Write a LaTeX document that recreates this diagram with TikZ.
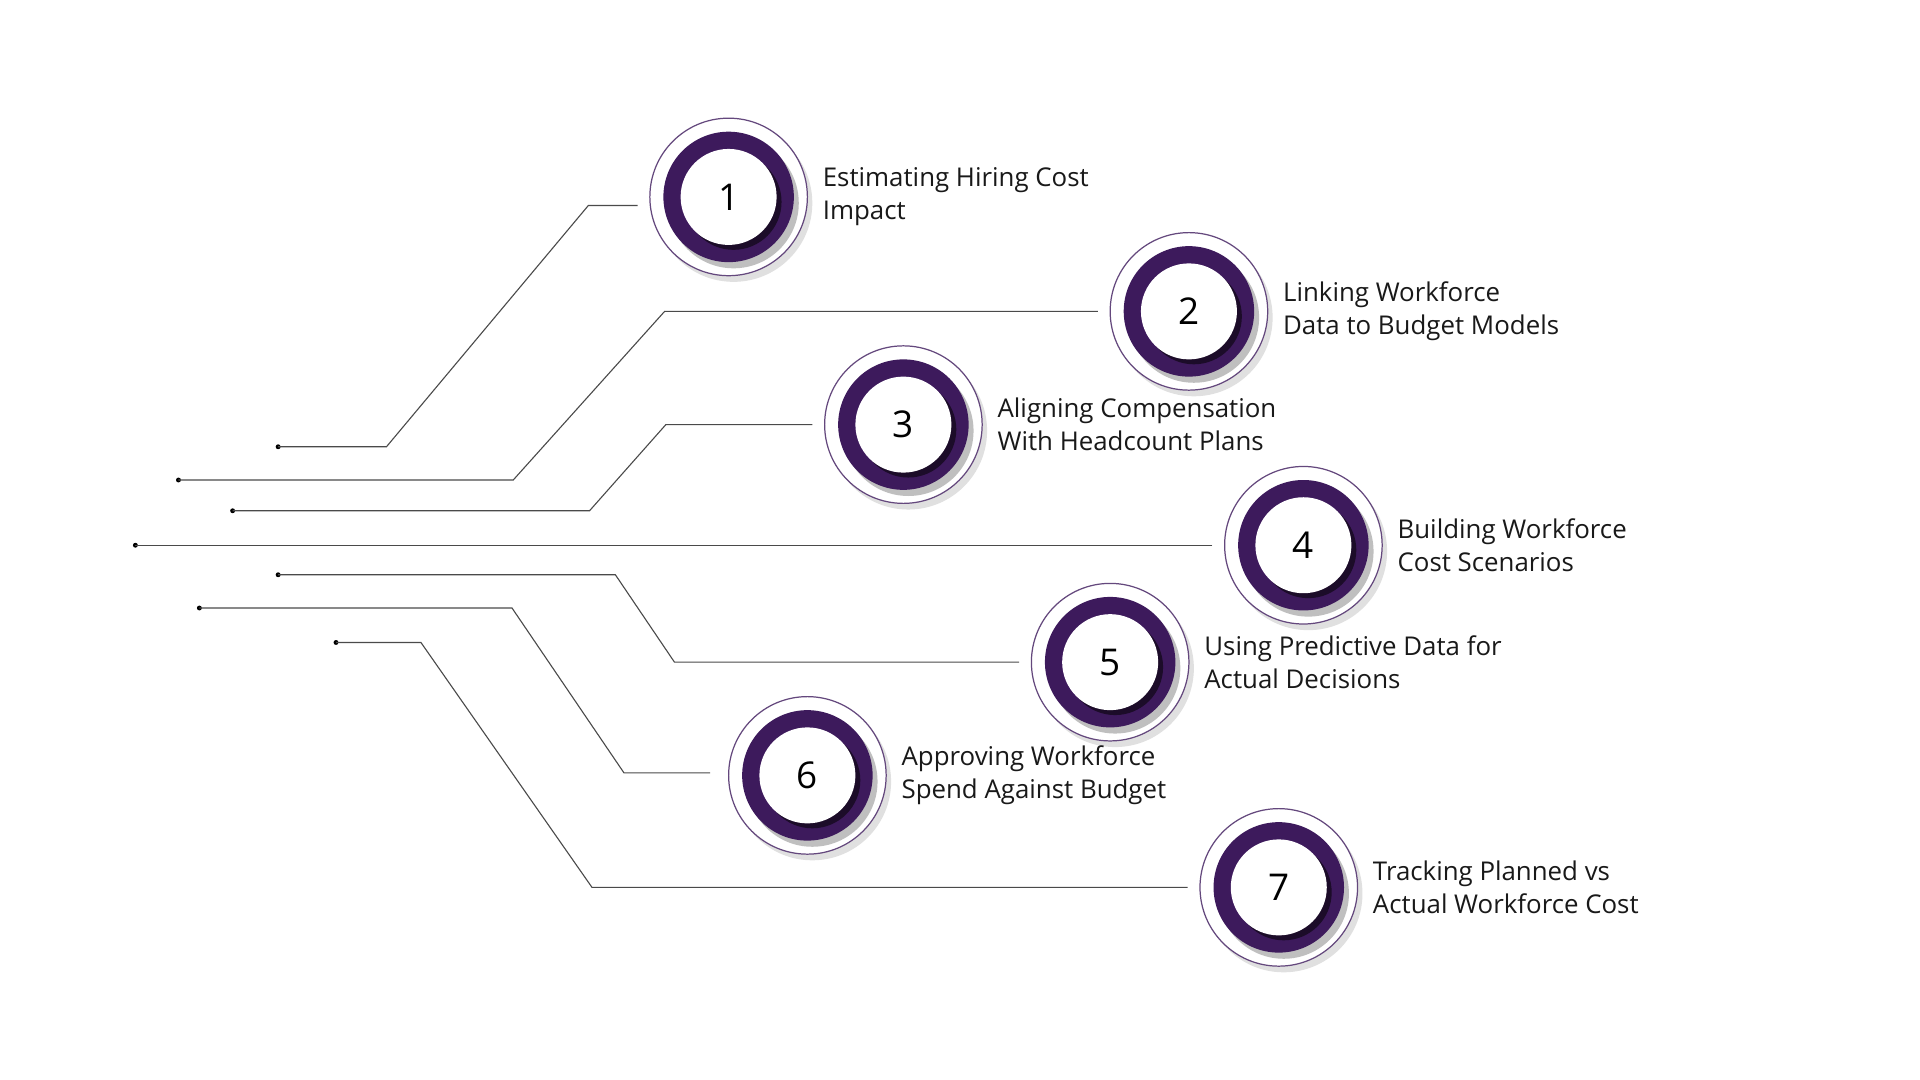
\documentclass[tikz,border=0pt]{standalone}
\usepackage{fontspec}
\setmainfont{Open Sans}
\usetikzlibrary{shadows}
\definecolor{pur}{HTML}{3D1A5C}
\definecolor{ln}{HTML}{4A4A4A}
\begin{document}
\begin{tikzpicture}[x=1pt,y=-1pt,
  wire/.style={draw=ln,line width=0.9pt},
  dotnode/.style={circle,fill=black,inner sep=0pt,minimum size=4pt},
  lbl/.style={anchor=west,align=left,font=\fontsize{21}{27}\selectfont,text=black!90}]
\useasboundingbox[fill=white] (0,0) rectangle (1560,877);
\newcommand{\stepcirc}[4]{%
  \fill[black!12] (#2+4,#3+5) circle (64);
  \fill[white] (#2,#3) circle (64);
  \draw[pur!80,line width=1pt] (#2,#3) circle (64);
  \fill[black!25] (#2+4,#3+5) circle (53);
  \fill[pur] (#2,#3) circle (53);
  \fill[black!55!pur] (#2+4,#3+4) circle (39);
  \fill[white] (#2,#3) circle (39);
  \node[font=\fontsize{30}{30}\selectfont] (n#1) at (#2,#3) {#1};
  \coordinate (c#1) at (#2-74,#3);
  \node[lbl] (t#1) at (#2+73,#3) {#4};
}
\stepcirc{1}{592}{160}{Estimating Hiring Cost\\Impact}
\stepcirc{2}{966}{253}{Linking Workforce\\Data to Budget Models}
\stepcirc{3}{734}{345}{Aligning Compensation\\With Headcount Plans}
\stepcirc{4}{1059}{443}{Building Workforce\\Cost Scenarios}
\stepcirc{5}{902}{538}{Using Predictive Data for\\Actual Decisions}
\stepcirc{6}{656}{630}{Approving Workforce\\Spend Against Budget}
\stepcirc{7}{1039}{721}{Tracking Planned vs\\Actual Workforce Cost}
\node[dotnode] (d1) at (226,363) {};
\node[dotnode] (d2) at (145,390) {};
\node[dotnode] (d3) at (189,415) {};
\node[dotnode] (d4) at (110,443) {};
\node[dotnode] (d5) at (226,467) {};
\node[dotnode] (d6) at (162,494) {};
\node[dotnode] (d7) at (273,522) {};
\draw[wire] (518,167) -- (478,167) -- (314,363) -- (d1.center);
\draw[wire] (c2) -- (540,253) -- (417,390) -- (d2.center);
\draw[wire] (c3) -- (541,345) -- (479,415) -- (d3.center);
\draw[wire] (c4) -- (d4.center);
\draw[wire] (c5) -- (548,538) -- (500,467) -- (d5.center);
\draw[wire] (577,628) -- (507,628) -- (416,494) -- (d6.center);
\draw[wire] (c7) -- (481,721) -- (342,522) -- (d7.center);
\end{tikzpicture}
\end{document}
